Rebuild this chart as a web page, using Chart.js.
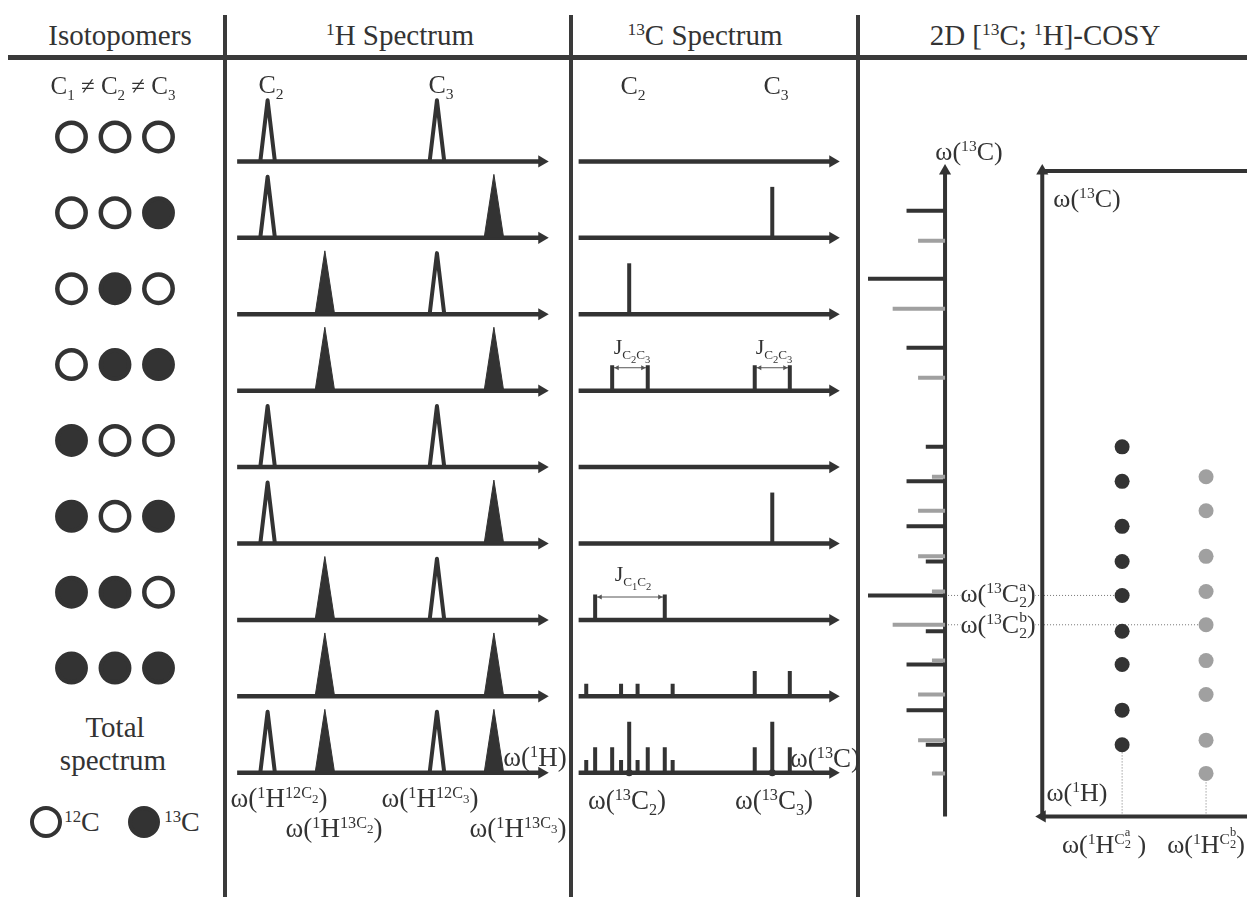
<!DOCTYPE html>
<html>
<head>
<meta charset="utf-8">
<script src="https://cdn.jsdelivr.net/npm/chart.js@4.4.1/dist/chart.umd.min.js"></script>
<style>
  body { margin: 0; background: #fff; }
  #page { position: relative; width: 1247px; height: 897px; overflow: hidden;
          font-family: "Liberation Serif", "Times New Roman", serif; color: #333; }
  canvas { position: absolute; }
  .rule { position: absolute; background: #3a3a3a; }
  .t { position: absolute; white-space: nowrap; line-height: 1; transform: translate(-50%, -50%); }
  .t sup { font-size: 0.6em; vertical-align: 0.55em; line-height: 0; }
  .t sub { font-size: 0.6em; vertical-align: -0.4em; line-height: 0; }
  .t sup sub, .t sub sub { font-size: 0.8em; }
  .ss { display: inline-block; font-size: 0.6em; line-height: 1; vertical-align: -0.35em; text-align: left; }
  .t sup .ss { font-size: 0.8em; }
  .ss > span { display: block; }
  .bg { background: #fff; }
  .dot { position: absolute; width: 24px; height: 24px; border-radius: 50%; border: 4.5px solid #333; }
</style>
</head>
<body>
<div id="page">
  <div class="rule" style="left:8px;top:55px;width:1239px;height:5px"></div>
  <div class="rule" style="left:223px;top:15px;width:4px;height:882px"></div>
  <div class="rule" style="left:569px;top:15px;width:4px;height:882px"></div>
  <div class="rule" style="left:856px;top:15px;width:4px;height:882px"></div>

  <canvas id="isoChart" width="174" height="607" style="left:28px;top:99px"></canvas>
  <canvas id="h1Chart" width="332" height="726" style="left:228px;top:85px"></canvas>
  <canvas id="c13Chart" width="277" height="726" style="left:571px;top:85px"></canvas>
  <canvas id="cosyChart" width="389" height="717" style="left:858px;top:132px"></canvas>

  <!-- headers -->
  <div class="t" style="left:120px;top:35px;font-size:29px">Isotopomers</div>
  <div class="t" style="left:400px;top:35px;font-size:29px"><sup>1</sup>H Spectrum</div>
  <div class="t" style="left:705px;top:35px;font-size:29px"><sup>13</sup>C Spectrum</div>
  <div class="t" style="left:1045px;top:35px;font-size:29px">2D [<sup>13</sup>C; <sup>1</sup>H]-COSY</div>

  <!-- isotopomer column -->
  <div class="t" style="left:113px;top:85px;font-size:25px">C<sub>1</sub> ≠ C<sub>2</sub> ≠ C<sub>3</sub></div>
  <div class="t" style="left:115px;top:727px;font-size:29px">Total</div>
  <div class="t" style="left:113px;top:760px;font-size:29px">spectrum</div>
  <div class="dot" style="left:30px;top:806px;background:#fff"></div>
  <div class="t" style="left:82px;top:822px;font-size:28px"><sup>12</sup>C</div>
  <div class="dot" style="left:128px;top:806px;background:#333"></div>
  <div class="t" style="left:182px;top:822px;font-size:28px"><sup>13</sup>C</div>

  <!-- 1H panel -->
  <div class="t" style="left:271px;top:85px;font-size:26px">C<sub>2</sub></div>
  <div class="t" style="left:441px;top:85px;font-size:26px">C<sub>3</sub></div>
  <div class="t" style="left:535px;top:757px;font-size:27px">ω(<sup>1</sup>H)</div>
  <div class="t" style="left:279px;top:798px;font-size:27px">ω(<sup>1</sup>H<sup>12C<sub>2</sub></sup>)</div>
  <div class="t" style="left:334px;top:828px;font-size:27px">ω(<sup>1</sup>H<sup>13C<sub>2</sub></sup>)</div>
  <div class="t" style="left:430px;top:798px;font-size:27px">ω(<sup>1</sup>H<sup>12C<sub>3</sub></sup>)</div>
  <div class="t" style="left:518px;top:828px;font-size:27px">ω(<sup>1</sup>H<sup>13C<sub>3</sub></sup>)</div>

  <!-- 13C panel -->
  <div class="t" style="left:633px;top:86px;font-size:26px">C<sub>2</sub></div>
  <div class="t" style="left:776px;top:86px;font-size:26px">C<sub>3</sub></div>
  <div class="t" style="left:632px;top:348px;font-size:22px">J<sub>C<sub>2</sub>C<sub>3</sub></sub></div>
  <div class="t" style="left:774px;top:348px;font-size:22px">J<sub>C<sub>2</sub>C<sub>3</sub></sub></div>
  <div class="t" style="left:633px;top:575px;font-size:22px">J<sub>C<sub>1</sub>C<sub>2</sub></sub></div>
  <div class="t" style="left:825px;top:758px;font-size:27px">ω(<sup>13</sup>C)</div>
  <div class="t" style="left:627px;top:800px;font-size:27px">ω(<sup>13</sup>C<sub>2</sub>)</div>
  <div class="t" style="left:774px;top:800px;font-size:27px">ω(<sup>13</sup>C<sub>3</sub>)</div>

  <!-- COSY panel -->
  <div class="t" style="left:969px;top:152px;font-size:26px">ω(<sup>13</sup>C)</div>
  <div class="t" style="left:1087px;top:199px;font-size:26px">ω(<sup>13</sup>C)</div>
  <div class="t" style="left:1077px;top:793px;font-size:26px">ω(<sup>1</sup>H)</div>
  <div class="t bg" style="left:998px;top:594px;font-size:26px">ω(<sup>13</sup>C<span class="ss"><span>a</span><span>2</span></span>)</div>
  <div class="t bg" style="left:998px;top:625px;font-size:26px">ω(<sup>13</sup>C<span class="ss"><span>b</span><span>2</span></span>)</div>
  <div class="t" style="left:1104px;top:842px;font-size:26px">ω(<sup>1</sup>H<sup>C<span class="ss"><span>a</span><span>2</span></span></sup> )</div>
  <div class="t" style="left:1206px;top:842px;font-size:26px">ω(<sup>1</sup>H<sup>C<span class="ss"><span>b</span><span>2</span></span></sup>)</div>
</div>

<script>
// Colours
const INK = '#333333';
const GREY = '#a0a0a0';
const GUIDE = '#777777';

// Isotopomers: label of C1, C2, C3 (0 = 12C, 1 = 13C)
const isotopomers = [
    [0, 0, 0], [0, 0, 1], [0, 1, 0], [0, 1, 1],
    [1, 0, 0], [1, 0, 1], [1, 1, 0], [1, 1, 1]
];
const carbons = [1, 2, 3];

// 1H shifts (arbitrary units) of the C2 / C3 protons on 12C (index 0) or 13C (index 1)
const h1ShiftC2 = [10.0, 28.8];
const h1ShiftC3 = [65.6, 84.3];

// 13C lines for every isotopomer row: positions and relative intensities
const c13Pos = [
    [],
    [76.2],
    [19.9],
    [13.2, 27.2, 69.3, 83.1],
    [],
    [76.2],
    [6.5, 33.9],
    [3.0, 16.7, 23.2, 37.0, 69.3, 83.1]
];
const c13Int = [
    [],
    [1],
    [1],
    [0.5, 0.5, 0.5, 0.5],
    [],
    [1],
    [0.5, 0.5],
    [0.25, 0.25, 0.25, 0.25, 0.5, 0.5]
];
const c13TotalPos = [3.0, 6.5, 13.2, 16.7, 19.9, 23.2, 27.2, 33.9, 37.0, 69.3, 76.2, 83.1];
const c13TotalInt = [0.25, 0.5, 0.5, 0.25, 1, 0.25, 0.5, 0.5, 0.25, 0.5, 1, 0.5];
const c13Centres = [19.9, 76.2];   // ω(13C2), ω(13C3)

// J couplings marked with arrows: row and the two lines
const jRow = [3, 3, 6];
const jFrom = [13.2, 69.3, 6.5];
const jTo = [27.2, 83.1, 33.9];

// 2D COSY: 13C projection for the two protons (a dark, b grey)
const cosyShiftA = [92.9, 82.5, 71.9, 56.7, 51.4, 44.5, 39.1, 33.9, 28.4, 23.3, 16.3, 11.0];
const cosyIntA = [0.5, 1, 0.5, 0.25, 0.5, 0.5, 0.25, 1, 0.25, 0.5, 0.5, 0.25];
const cosyShiftB = [88.3, 77.9, 67.3, 52.1, 46.9, 39.9, 34.5, 29.4, 23.9, 18.7, 11.7, 6.6];
const cosyIntB = [0.35, 0.68, 0.35, 0.17, 0.35, 0.35, 0.17, 0.68, 0.17, 0.35, 0.35, 0.17];
const crossH1 = [61, 20];          // ω(1H^C2a), ω(1H^C2b)
const crossC13A = [56.7, 51.4, 44.5, 39.1, 33.9, 28.4, 23.3, 16.3, 11.0];
const crossC13B = [52.1, 46.9, 39.9, 34.5, 29.4, 23.9, 18.7, 11.7, 6.6];
const markC13 = [33.9, 29.4];      // ω(13C2a), ω(13C2b)

// drawing constants
const STICK = 0.667;     // stick height (rows) for intensity 1
const AXIS_END = 100;    // spectrum axes run 0..100
const AXIS_TOP = 99;

const rowsAll = isotopomers.map((_, i) => i).concat([isotopomers.length]);
const totalRow = isotopomers.length;

function makeChart(id, datasets, scales, plugins) {
    return new Chart(document.getElementById(id), {
        type: 'line',
        data: { datasets: datasets },
        options: {
            responsive: false,
            animation: false,
            events: [],
            layout: { padding: 0, autoPadding: false },
            elements: { line: { tension: 0 } },
            plugins: { legend: { display: false }, tooltip: { enabled: false } },
            scales: scales
        },
        plugins: plugins || []
    });
}

function rowScales(xmin, xmax) {
    return {
        x: { type: 'linear', display: false, min: xmin, max: xmax },
        y: { type: 'linear', display: false, min: -1, max: 8.5, reverse: true }
    };
}

// baseline arrows shared by both 1D panels
function baselineSets() {
    const line = [];
    rowsAll.forEach(r => line.push({ x: 0, y: r }, { x: AXIS_END, y: r }, { x: AXIS_END, y: null }));
    return [
        { data: line, borderColor: INK, borderWidth: 4.5, pointRadius: 0, order: 5 },
        {
            data: rowsAll.map(r => ({ x: AXIS_END, y: r })), showLine: false,
            pointStyle: 'triangle', pointRotation: 90, pointRadius: 7,
            pointBackgroundColor: INK, pointBorderWidth: 0, order: 4
        }
    ];
}

// ---- isotopomer circles ----
const circlePts = [];
const circleFill = [];
isotopomers.forEach((iso, r) => iso.forEach((label, c) => {
    circlePts.push({ x: carbons[c], y: r });
    circleFill.push(label ? INK : '#ffffff');
}));
makeChart('isoChart', [{
    data: circlePts, showLine: false, pointStyle: 'circle', pointRadius: 14.2,
    pointBorderWidth: 4.5, pointBorderColor: INK, pointBackgroundColor: circleFill
}], {
    x: { type: 'linear', display: false, min: 0, max: 4 },
    y: { type: 'linear', display: false, min: -0.5, max: 7.5, reverse: true }
});

// ---- 1H spectrum ----
function peak(x, row, filled) {
    const hw = filled ? 3.2 : 2.4;
    const h = filled ? 0.83 : 0.8;
    return {
        data: [{ x: x - hw, y: row }, { x: x, y: row - h }, { x: x + hw, y: row }],
        borderColor: INK, borderWidth: filled ? 1 : 4, borderJoinStyle: 'round',
        backgroundColor: INK, fill: filled ? { value: row } : false,
        pointRadius: 0, order: 1
    };
}
const h1Sets = [];
isotopomers.forEach((iso, r) => {
    h1Sets.push(peak(h1ShiftC2[iso[1]], r, iso[1] === 1));
    h1Sets.push(peak(h1ShiftC3[iso[2]], r, iso[2] === 1));
});
[0, 1].forEach(k => {
    h1Sets.push(peak(h1ShiftC2[k], totalRow, k === 1));
    h1Sets.push(peak(h1ShiftC3[k], totalRow, k === 1));
});
makeChart('h1Chart', h1Sets.concat(baselineSets()), rowScales(-3, 106));

// ---- 13C spectrum ----
function sticks(pos, ints, row) {
    const d = [];
    pos.forEach((p, i) => d.push({ x: p, y: row }, { x: p, y: row - ints[i] * STICK }, { x: p, y: null }));
    return { data: d, borderColor: INK, borderWidth: 4, pointRadius: 0, order: 1 };
}
const c13Sets = isotopomers.map((_, r) => sticks(c13Pos[r], c13Int[r], r));
c13Sets.push(sticks(c13TotalPos, c13TotalInt, totalRow));
c13Sets.push({
    data: c13Centres.map(v => ({ x: v, y: totalRow })), showLine: false,
    pointRadius: 3.5, pointBackgroundColor: INK, pointBorderWidth: 0, order: 0
});
jRow.forEach((r, i) => {
    const lvl = r - 0.9 * 0.5 * STICK;
    const inset = 2.0;
    c13Sets.push({
        data: [{ x: jFrom[i], y: lvl }, { x: jFrom[i] + inset, y: lvl }, { x: jTo[i] - inset, y: lvl }, { x: jTo[i], y: lvl }],
        borderColor: '#555', borderWidth: 1, pointStyle: 'triangle',
        pointRadius: [0, 3, 3, 0], pointRotation: [0, 270, 90, 0],
        pointBackgroundColor: '#555', pointBorderWidth: 0, order: 2
    });
});
makeChart('c13Chart', c13Sets.concat(baselineSets()), rowScales(-3, 106));

// ---- 2D [13C; 1H]-COSY ----
function projTicks(shifts, ints, colour, order) {
    const d = [];
    shifts.forEach((s, i) => d.push({ x: 0, y: s }, { x: ints[i], y: s }, { x: 0, y: null }));
    return { xAxisID: 'xi', data: d, borderColor: colour, borderWidth: 4, pointRadius: 0, order: order };
}
const guidePlugin = {
    id: 'guides',
    beforeDatasetsDraw(chart) {
        const { ctx, scales } = chart;
        ctx.save();
        ctx.strokeStyle = GUIDE;
        ctx.lineWidth = 1;
        ctx.setLineDash([1, 2]);
        markC13.forEach((v, i) => {
            const y = scales.y.getPixelForValue(v);
            ctx.beginPath();
            ctx.moveTo(scales.xi.getPixelForValue(0), y);
            ctx.lineTo(scales.xh.getPixelForValue(crossH1[i]), y);
            ctx.stroke();
        });
        ctx.restore();
    }
};
const cosySets = [
    {
        xAxisID: 'xh', data: crossC13A.map(v => ({ x: crossH1[0], y: v })), showLine: false,
        pointRadius: 7.5, pointBackgroundColor: INK, pointBorderWidth: 0, order: 0
    },
    {
        xAxisID: 'xh', data: crossC13B.map(v => ({ x: crossH1[1], y: v })), showLine: false,
        pointRadius: 7.5, pointBackgroundColor: GREY, pointBorderWidth: 0, order: 0
    },
    {
        xAxisID: 'xh', data: [{ x: crossH1[0], y: 0 }, { x: crossH1[0], y: Math.min(...crossC13A) }],
        borderColor: GUIDE, borderWidth: 1, borderDash: [1, 2], pointRadius: 0, order: 3
    },
    {
        xAxisID: 'xh', data: [{ x: crossH1[1], y: 0 }, { x: crossH1[1], y: Math.min(...crossC13B) }],
        borderColor: GUIDE, borderWidth: 1, borderDash: [1, 2], pointRadius: 0, order: 3
    },
    projTicks(cosyShiftB, cosyIntB, GREY, 1),
    projTicks(cosyShiftA, cosyIntA, INK, 2),
    // projection axis
    { xAxisID: 'xi', data: [{ x: 0, y: 0 }, { x: 0, y: AXIS_TOP }], borderColor: INK, borderWidth: 4, pointRadius: 0, order: 1 },
    {
        xAxisID: 'xi', data: [{ x: 0, y: AXIS_TOP }], showLine: false, pointStyle: 'triangle',
        pointRotation: 0, pointRadius: 7, pointBackgroundColor: INK, pointBorderWidth: 0, order: 1
    },
    // 2D frame: ω(13C) axis, top edge, ω(1H) axis
    {
        xAxisID: 'xh', data: [{ x: AXIS_END, y: 0 }, { x: AXIS_END, y: AXIS_TOP }, { x: 0, y: AXIS_TOP }],
        borderColor: INK, borderWidth: 4, pointRadius: 0, order: 1
    },
    { xAxisID: 'xh', data: [{ x: 0, y: 0 }, { x: AXIS_END, y: 0 }], borderColor: INK, borderWidth: 4, pointRadius: 0, order: 1 },
    {
        xAxisID: 'xh', data: [{ x: AXIS_END, y: AXIS_TOP }, { x: AXIS_END, y: 0 }], showLine: false,
        pointStyle: 'triangle', pointRotation: [0, 270], pointRadius: 7,
        pointBackgroundColor: INK, pointBorderWidth: 0, order: 1
    }
];
makeChart('cosyChart', cosySets, {
    xi: { axis: 'x', type: 'linear', display: false, min: -3.92, max: 1.13, reverse: true },
    xh: { axis: 'x', type: 'linear', display: false, min: 0, max: 190, reverse: true },
    y: { type: 'linear', display: false, min: -5, max: 105 }
}, [guidePlugin]);
</script>
</body>
</html>
